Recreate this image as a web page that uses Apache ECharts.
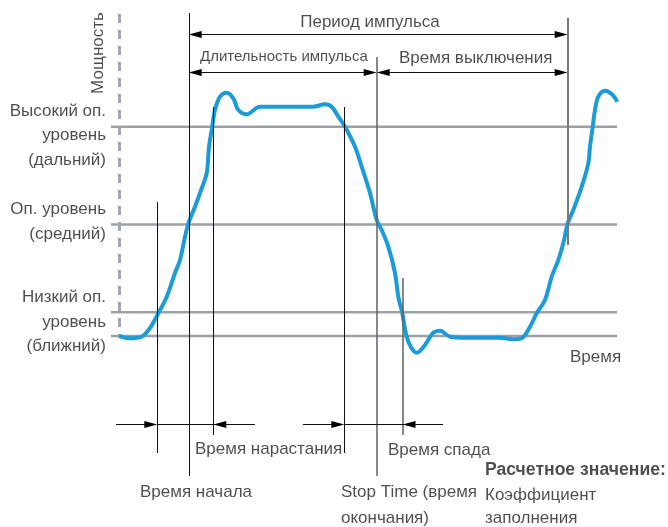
<!DOCTYPE html>
<html><head><meta charset="utf-8">
<script src="https://cdn.jsdelivr.net/npm/echarts@6/dist/echarts.min.js"></script>
<style>html,body{margin:0;padding:0;background:#fff}#c{width:668px;height:527px}</style>
</head><body><div id="c"></div>
<script>
// time t (axis origin at 0), power p (baseline 0)
const curve = [
[0,0],[11,-2.3],[22.7,-0.7],[31,8],[39.3,22.7],[47.7,39.3],[56,63],[61,76],[66,99.3],[70,114.3],
[76,129.3],[81,143],[87.7,163],[90,189.3],[92.7,206],[96,226],[101,239.3],[107.7,243.3],[114.3,237.7],
[119.3,226],[127.7,221.7],[141,229.3],[194.3,229.3],[206,231.7],[212.7,229.3],[219.3,219.3],[226,209.3],
[236,189.3],[242.7,169.3],[251,143],[257.7,116],[262.7,106],[269.3,89.3],[276,63],[279.3,39.3],[283.3,22.7],
[287.7,-0.7],[292.7,-12.3],[297.7,-16.7],[306,-9],[314.3,3.3],[321,5.3],[331,-0.7],[347.7,-1.7],[381,-1.7],
[394.3,-3.3],[402.7,-2.3],[411,9.3],[417.7,22.7],[426,36],[432.7,59.3],[439.3,76],[444.3,92.7],[448.7,112.7],
[454.3,126],[462.7,149.3],[469.3,172.7],[471,189.3],[473.7,209.3],[476,226],[479.3,239.3],[486,245.3],
[492.7,242],[498.3,234.3]
];
const refLevels = [209.3, 111.5, 23.7, 0];
const refRange = [-8, 498];
const powerAxis = [[0, 322, 0]];
const vBlack = [[38.3,134,-117],[69.7,323,-140],[94.3,229,-99],[225.3,229,-117]];
const vGrayThin = [[257.7,279,-140],[283.5,58,-99]];
const vGrayThick = [[448.7,318,91]];
// arrows: [tail, tip, p]
const arrows = [
[259,69.7,301.7],[259,448.7,301.7],
[163,69.7,264.3],[163,257.7,264.3],
[353,257.7,264.3],[353,448.7,264.3],
[-3,38.3,-88.3],[136,94.3,-88.3],[184,225.3,-88.3],[324,283.5,-88.3]
];
const hSegments = [[39,136,-88.3],[226,324,-88.3]];
// labels: [t, p, text, align]
const labelsLeft = [
[-13,225,'Высокий оп.'],[-13,200.5,'уровень'],[-13,176,'(дальний)'],
[-13,127,'Оп. уровень'],[-13,102,'(средний)'],
[-13,39,'Низкий оп.'],[-13,14,'уровень'],[-13,-10,'(ближний)']
];
const labelsMain = [
[251,314,'Период импульса','center'],
[280,278,'Время выключения','left'],
[451,-21,'Время','left'],
[76,-113,'Время нарастания','left'],
[269,-114,'Время спада','left'],
[21,-156,'Время начала','left'],
[222,-156,'Stop Time (время','left'],
[222,-182,'окончания)','left'],
[366,-159,'Коэффициент','left'],
[366,-182,'заполнения','left']
];
const labelsSmall = [[81,279,'Длительность импульса','left']];
const labelsBold = [[366,-134,'Расчетное значение:','left']];
const labelsRot = [[-21,283,'Мощность']];

const FONT = '"Liberation Sans", Arial, sans-serif';
const TXT = '#231f20';

function segSeries(data, mode, color, width, dash, z) {
  return {
    type: 'custom', data: data, clip: false, silent: true, z: z || 3,
    renderItem: function (params, api) {
      let a, b;
      if (mode === 'v') { a = api.coord([api.value(0), api.value(1)]); b = api.coord([api.value(0), api.value(2)]); }
      else { a = api.coord([api.value(0), api.value(2)]); b = api.coord([api.value(1), api.value(2)]); }
      const off = (width % 2 === 1) ? 0.5 : 0;
      if (mode === 'v') { a[0] = b[0] = Math.round(a[0]) + off; }
      else { a[1] = b[1] = Math.round(a[1]) + off; }
      return { type: 'line', shape: { x1: a[0], y1: a[1], x2: b[0], y2: b[1] },
        style: { stroke: color, lineWidth: width, lineDash: dash || null } };
    }
  };
}
function refSeries() {
  return {
    type: 'custom', data: refLevels.map(v => [v]), clip: false, silent: true, z: 1,
    encode: { y: 0 },
    renderItem: function (params, api) {
      const a = api.coord([refRange[0], api.value(0)]), b = api.coord([refRange[1], api.value(0)]);
      return { type: 'line', shape: { x1: a[0], y1: a[1], x2: b[0], y2: b[1] },
        style: { stroke: '#9da1a5', lineWidth: 2.5 } };
    }
  };
}
function arrowSeries() {
  return {
    type: 'custom', data: arrows, clip: false, silent: true, z: 4,
    renderItem: function (params, api) {
      const t = api.coord([api.value(0), api.value(2)]), h = api.coord([api.value(1), api.value(2)]);
      const y = Math.round(t[1]) + 0.5;
      const dir = h[0] > t[0] ? 1 : -1;
      const L = 13, W = 3.6;
      return { type: 'group', children: [
        { type: 'line', shape: { x1: t[0], y1: y, x2: h[0] - dir * 4, y2: y }, style: { stroke: '#111', lineWidth: 1 } },
        { type: 'polygon', shape: { points: [[h[0], y], [h[0] - dir * L, y - W], [h[0] - dir * L, y + W]] }, style: { fill: '#000' } }
      ] };
    }
  };
}
function textSeries(data, size, weight, defAlign, rotate) {
  return {
    type: 'scatter', symbolSize: 0, silent: true, z: 5,
    data: data.map(d => ({ value: [d[0], d[1]], name: d[2],
      label: { align: d[3] || defAlign } })),
    label: { show: true, position: 'inside', formatter: '{b}', color: TXT, fontFamily: FONT,
      fontSize: size, fontWeight: weight, verticalAlign: 'middle', rotate: rotate || 0 }
  };
}

const chart = echarts.init(document.getElementById('c'), null, { renderer: 'canvas' });
chart.setOption({
  animation: false,
  backgroundColor: '#fff',
  grid: { left: 0, right: 0, top: 0, bottom: 0, containLabel: false },
  xAxis: { type: 'value', min: -119, max: 549, show: false },
  yAxis: { type: 'value', min: -191, max: 336, show: false },
  series: [
    refSeries(),
    segSeries(powerAxis, 'v', '#a3a6aa', 3, [9, 7], 1),
    { type: 'line', data: curve, smooth: 0.35, showSymbol: false, symbol: 'none', silent: true, z: 2,
      lineStyle: { color: '#1b9bd8', width: 4 } },
    segSeries(vBlack, 'v', '#111', 1),
    segSeries(vGrayThin, 'v', '#5f6063', 1.5),
    segSeries(vGrayThick, 'v', '#76787b', 2),
    segSeries(hSegments, 'h', '#111', 1),
    arrowSeries(),
    textSeries(labelsLeft, 17, 'normal', 'right'),
    textSeries(labelsMain, 17, 'normal', 'left'),
    textSeries(labelsSmall, 15, 'normal', 'left'),
    textSeries(labelsBold, 17.6, 'bold', 'left'),
    textSeries(labelsRot, 17, 'normal', 'center', 90)
  ]
});
</script></body></html>
